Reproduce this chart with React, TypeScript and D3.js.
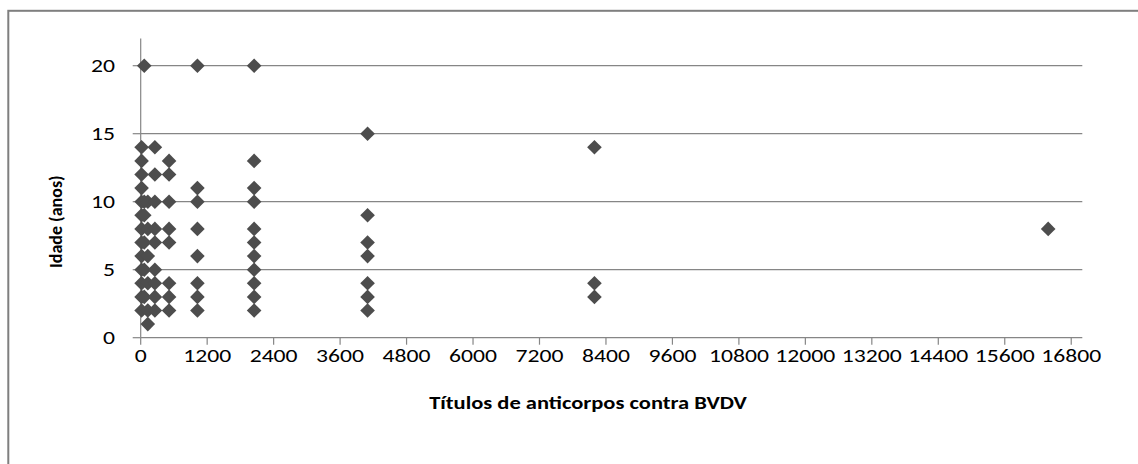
import React, { useEffect } from "react";
import * as d3 from "d3";

// Titer columns (x) and ages (y)
const titers16 = [16, 16, 16, 16, 16, 16, 16, 16, 16, 16, 16, 16, 16];
const ages16 = [2, 3, 4, 5, 6, 7, 8, 9, 10, 11, 12, 13, 14];
const titers64 = [64, 64, 64, 64, 64, 64];
const ages64 = [20, 3, 5, 7, 9, 10];
const titers128 = [128, 128, 128, 128, 128, 128];
const ages128 = [1, 2, 4, 6, 8, 10];
const titers256 = [256, 256, 256, 256, 256, 256, 256, 256, 256];
const ages256 = [14, 12, 10, 8, 7, 5, 4, 3, 2];
const titers512 = [512, 512, 512, 512, 512, 512, 512, 512];
const ages512 = [13, 12, 10, 8, 7, 4, 3, 2];
const titers1024 = [1024, 1024, 1024, 1024, 1024, 1024, 1024, 1024];
const ages1024 = [20, 11, 10, 8, 6, 4, 3, 2];
const titers2048 = [2048, 2048, 2048, 2048, 2048, 2048, 2048, 2048, 2048, 2048, 2048];
const ages2048 = [20, 13, 11, 10, 8, 7, 6, 5, 4, 3, 2];
const titers4096 = [4096, 4096, 4096, 4096, 4096, 4096, 4096];
const ages4096 = [15, 9, 7, 6, 4, 3, 2];
const titers8192 = [8192, 8192, 8192];
const ages8192 = [14, 4, 3];
const titers16384 = [16384];
const ages16384 = [8];

const xTicks = [0, 1200, 2400, 3600, 4800, 6000, 7200, 8400, 9600, 10800, 12000, 13200, 14400, 15600, 16800];
const yTicks = [0, 5, 10, 15, 20];
const xTitle = "Títulos de anticorpos contra BVDV";
const yTitle = "Idade (anos)";

const groups: [number[], number[]][] = [
  [titers16, ages16],
  [titers64, ages64],
  [titers128, ages128],
  [titers256, ages256],
  [titers512, ages512],
  [titers1024, ages1024],
  [titers2048, ages2048],
  [titers4096, ages4096],
  [titers8192, ages8192],
  [titers16384, ages16384],
];

const W = 1138;
const H = 464;
const FONT = "Carlito, Calibri, Lato, 'Open Sans', sans-serif";

export default function App() {
  useEffect(() => {
    document.body.style.margin = "0";
  }, []);

  const x = d3.scaleLinear().domain([0, 17000]).range([140.7, 1082.3]);
  const y = d3.scaleLinear().domain([0, 22]).range([337.7, 38.5]);

  const points: { t: number; a: number }[] = [];
  groups.forEach(([ts, as]) => ts.forEach((t, i) => points.push({ t, a: as[i] })));

  const diamond = (cx: number, cy: number) => {
    const r = 7.3;
    return `M${cx},${cy - r}L${cx + r},${cy}L${cx},${cy + r}L${cx - r},${cy}Z`;
  };

  const grid = "#868686";
  const sx = 1.28;

  return (
    <svg width={W} height={H} style={{ display: "block" }} fontFamily={FONT}>
      <rect x={0} y={0} width={W} height={H} fill="#fff" />
      <rect x={8.3} y={10.8} width={1300} height={600} fill="#fff" stroke="#7f7f7f" strokeWidth={2} />
      {/* gridlines */}
      {yTicks.filter((v) => v > 0).map((v) => (
        <line key={"g" + v} x1={x(0)} x2={x(17000)} y1={y(v)} y2={y(v)} stroke={grid} strokeWidth={1.2} />
      ))}
      {/* axes */}
      <line x1={x(0)} x2={x(0)} y1={y(22)} y2={y(0)} stroke={grid} strokeWidth={1.2} />
      <line x1={x(0)} x2={x(17000)} y1={y(0)} y2={y(0)} stroke={grid} strokeWidth={1.2} />
      {xTicks.map((v) => (
        <line key={"xt" + v} x1={x(v)} x2={x(v)} y1={y(0)} y2={y(0) + 7} stroke={grid} strokeWidth={1.2} />
      ))}
      {yTicks.map((v) => (
        <line key={"yt" + v} x1={x(0) - 8} x2={x(0)} y1={y(v)} y2={y(v)} stroke={grid} strokeWidth={1.2} />
      ))}
      {/* tick labels */}
      {yTicks.map((v) => (
        <text
          key={"yl" + v}
          transform={`translate(115,${y(v)}) scale(${sx},1)`}
          textAnchor="end"
          dominantBaseline="central"
          fontSize={18.5}
          fill="#000"
        >
          {v}
        </text>
      ))}
      {xTicks.map((v) => (
        <text
          key={"xl" + v}
          transform={`translate(${x(v)},356) scale(${sx},1)`}
          textAnchor="middle"
          dominantBaseline="central"
          fontSize={18.5}
          fill="#000"
        >
          {v}
        </text>
      ))}
      {/* titles */}
      <text
        transform={`translate(588,403) scale(1.25,1)`}
        textAnchor="middle"
        dominantBaseline="central"
        fontSize={18}
        fontWeight="bold"
        fill="#000"
      >
        {xTitle}
      </text>
      <text
        transform={`translate(55.5,221.7) rotate(-90)`}
        textAnchor="middle"
        dominantBaseline="central"
        fontSize={18}
        fontWeight="bold"
        fill="#000"
      >
        {yTitle}
      </text>
      {/* markers */}
      {points.map((p, i) => (
        <path key={"p" + i} d={diamond(x(p.t), y(p.a))} fill="#4d4d4d" />
      ))}
    </svg>
  );
}
